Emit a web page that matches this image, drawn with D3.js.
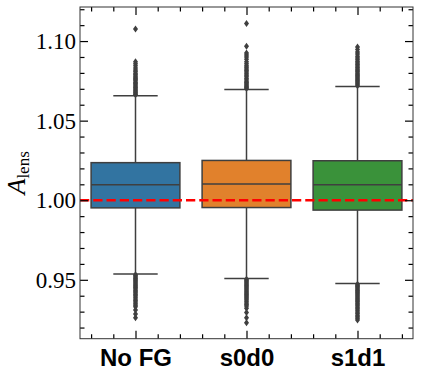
<!DOCTYPE html>
<html>
<head>
<meta charset="utf-8">
<script src="https://cdn.jsdelivr.net/npm/d3@7"></script>
<style>
  body { margin: 0; background: #fff; }
  svg { display: block; }
</style>
</head>
<body>
<div id="container"></div>
<script>
var categories = ["No FG", "s0d0", "s1d1"];
var colors = ["#3274a1", "#e1812c", "#3a923a"];

// box stats
var q1 = [0.9952, 0.9954, 0.9938];
var medians = [1.0098, 1.0102, 1.0098];
var q3 = [1.0236, 1.0250, 1.0248];
var whiskLow = [0.9537, 0.9508, 0.9477];
var whiskHigh = [1.0656, 1.0696, 1.0715];

// fliers
var fliersNoFG = [1.0662, 1.0668, 1.0675, 1.0681, 1.0690, 1.0697, 1.0705, 1.0712, 1.0720, 1.0728,
  1.0735, 1.0742, 1.0750, 1.0758, 1.0765, 1.0773, 1.0780, 1.0790, 1.0798, 1.0808, 1.0818, 1.0830,
  1.0845, 1.0858, 1.0870, 1.1075,
  0.9532, 0.9525, 0.9518, 0.9510, 0.9503, 0.9495, 0.9488, 0.9480, 0.9472, 0.9465, 0.9457, 0.9450,
  0.9442, 0.9433, 0.9425, 0.9417, 0.9408, 0.9400, 0.9390, 0.9380, 0.9370, 0.9360, 0.9350, 0.9340,
  0.9330, 0.9310, 0.9285, 0.9262];
var fliersS0d0 = [1.0702, 1.0708, 1.0715, 1.0722, 1.0730, 1.0738, 1.0745, 1.0755, 1.0765, 1.0775,
  1.0785, 1.0795, 1.0805, 1.0815, 1.0825, 1.0835, 1.0845, 1.0858, 1.0870, 1.0885, 1.0900, 1.0912,
  1.0925, 1.0967, 1.1110,
  0.9503, 0.9496, 0.9488, 0.9480, 0.9472, 0.9464, 0.9456, 0.9448, 0.9440, 0.9432, 0.9424, 0.9416,
  0.9408, 0.9400, 0.9392, 0.9384, 0.9375, 0.9365, 0.9355, 0.9345, 0.9335, 0.9322, 0.9295, 0.9262,
  0.9230];
var fliersS1d1 = [1.0720, 1.0728, 1.0736, 1.0744, 1.0752, 1.0760, 1.0768, 1.0776, 1.0784, 1.0792,
  1.0800, 1.0808, 1.0816, 1.0825, 1.0834, 1.0843, 1.0852, 1.0862, 1.0872, 1.0882, 1.0893, 1.0905,
  1.0918, 1.0932, 1.0947, 1.0962,
  0.9472, 0.9465, 0.9458, 0.9450, 0.9443, 0.9435, 0.9428, 0.9420, 0.9412, 0.9404, 0.9396, 0.9388,
  0.9380, 0.9372, 0.9364, 0.9355, 0.9346, 0.9337, 0.9328, 0.9318, 0.9308, 0.9298, 0.9288, 0.9278,
  0.9268, 0.9258, 0.9248];
var fliers = [fliersNoFG, fliersS0d0, fliersS1d1];

var yMajor = [0.95, 1.00, 1.05, 1.10];
var refLine = 1.0;

var width = 421, height = 378;
var pLeft = 80, pRight = 413, pTop = 7, pBottom = 338.7;
var gray = "#3f3f3f";

var svg = d3.select("#container").append("svg")
  .attr("width", width).attr("height", height);

var x = d3.scaleLinear().domain([-0.5, 2.5]).range([pLeft, pRight]);
var y = d3.scaleLinear().domain([0.9130, 1.1214]).range([pBottom, pTop]);

var boxes = svg.append("g");
categories.forEach(function(c, i) {
  var g = boxes.append("g");
  // whiskers
  g.append("line").attr("x1", x(i)).attr("x2", x(i))
    .attr("y1", y(q3[i])).attr("y2", y(whiskHigh[i]))
    .attr("stroke", gray).attr("stroke-width", 1.5);
  g.append("line").attr("x1", x(i)).attr("x2", x(i))
    .attr("y1", y(q1[i])).attr("y2", y(whiskLow[i]))
    .attr("stroke", gray).attr("stroke-width", 1.5);
  // caps
  [whiskHigh[i], whiskLow[i]].forEach(function(v) {
    g.append("line").attr("x1", x(i - 0.2)).attr("x2", x(i + 0.2))
      .attr("y1", y(v)).attr("y2", y(v))
      .attr("stroke", gray).attr("stroke-width", 1.5);
  });
  // box
  g.append("rect")
    .attr("x", x(i - 0.4)).attr("width", x(i + 0.4) - x(i - 0.4))
    .attr("y", y(q3[i])).attr("height", y(q1[i]) - y(q3[i]))
    .attr("fill", colors[i]).attr("stroke", gray).attr("stroke-width", 1.5);
  g.append("line").attr("x1", x(i - 0.4)).attr("x2", x(i + 0.4))
    .attr("y1", y(medians[i])).attr("y2", y(medians[i]))
    .attr("stroke", gray).attr("stroke-width", 1.5);
  // fliers as thin diamonds
  g.selectAll("path").data(fliers[i]).enter().append("path")
    .attr("d", function(d) {
      var cx = x(i), cy = y(d);
      return "M" + cx + "," + (cy - 3.5) + "L" + (cx + 2.5) + "," + cy +
        "L" + cx + "," + (cy + 3.5) + "L" + (cx - 2.5) + "," + cy + "Z";
    })
    .attr("fill", gray);
});

// red dashed reference line
svg.append("line")
  .attr("x1", pLeft).attr("x2", pRight)
  .attr("y1", y(refLine)).attr("y2", y(refLine))
  .attr("stroke", "red").attr("stroke-width", 2.5)
  .attr("stroke-dasharray", "9.25,4");

// ticks, inward on all sides
var yMinor = d3.range(92, 113).map(function(k) { return k / 100; })
  .filter(function(v) { return yMajor.every(function(m) { return Math.abs(m - v) > 1e-6; }); });
var xMinor = [-0.4, -0.2, 0.2, 0.4, 0.6, 0.8, 1.2, 1.4, 1.6, 1.8, 2.2, 2.4];

function clean(g) { g.select(".domain").remove(); }

svg.append("g").attr("transform", "translate(" + pLeft + ",0)")
  .call(d3.axisLeft(y).tickValues(yMajor).tickSize(-8).tickPadding(4).tickFormat(d3.format(".2f")))
  .call(clean)
  .attr("font-family", "'Liberation Serif', serif")
  .selectAll("text").style("font-family", "'Liberation Serif', serif").style("font-size", "23px").attr("fill", "#000");
svg.append("g").attr("transform", "translate(" + pLeft + ",0)")
  .call(d3.axisLeft(y).tickValues(yMinor).tickSize(-4.5).tickFormat(""))
  .call(clean);
svg.append("g").attr("transform", "translate(" + pRight + ",0)")
  .call(d3.axisRight(y).tickValues(yMajor).tickSize(-8).tickFormat(""))
  .call(clean);
svg.append("g").attr("transform", "translate(" + pRight + ",0)")
  .call(d3.axisRight(y).tickValues(yMinor).tickSize(-4.5).tickFormat(""))
  .call(clean);

svg.append("g").attr("transform", "translate(0," + pBottom + ")")
  .call(d3.axisBottom(x).tickValues([0, 1, 2]).tickSize(-8).tickPadding(10)
    .tickFormat(function(d) { return categories[d]; }))
  .call(clean)
  .selectAll("text").style("font-family", "'Liberation Sans', Arial, sans-serif")
  .style("font-size", "24px").style("font-weight", "bold").attr("fill", "#000");
svg.append("g").attr("transform", "translate(0," + pBottom + ")")
  .call(d3.axisBottom(x).tickValues(xMinor).tickSize(-4.5).tickFormat(""))
  .call(clean);
svg.append("g").attr("transform", "translate(0," + pTop + ")")
  .call(d3.axisTop(x).tickValues([0, 1, 2]).tickSize(-8).tickFormat(""))
  .call(clean);
svg.append("g").attr("transform", "translate(0," + pTop + ")")
  .call(d3.axisTop(x).tickValues(xMinor).tickSize(-4.5).tickFormat(""))
  .call(clean);

svg.selectAll(".tick line").attr("stroke", "#000").attr("stroke-width", 1.2);

// frame
svg.append("rect")
  .attr("x", pLeft).attr("y", pTop)
  .attr("width", pRight - pLeft).attr("height", pBottom - pTop)
  .attr("fill", "none").attr("stroke", "#333").attr("stroke-width", 1);

// y label: A_lens
var ylab = svg.append("text")
  .attr("transform", "translate(25," + ((pTop + pBottom) / 2) + ") rotate(-90)")
  .attr("text-anchor", "middle")
  .style("font-family", "'Liberation Serif', serif")
  .attr("fill", "#000");
ylab.append("tspan").style("font-style", "italic").style("font-size", "26px").text("A");
ylab.append("tspan").attr("dy", 4).style("font-size", "17px").text("lens");
</script>
</body>
</html>
